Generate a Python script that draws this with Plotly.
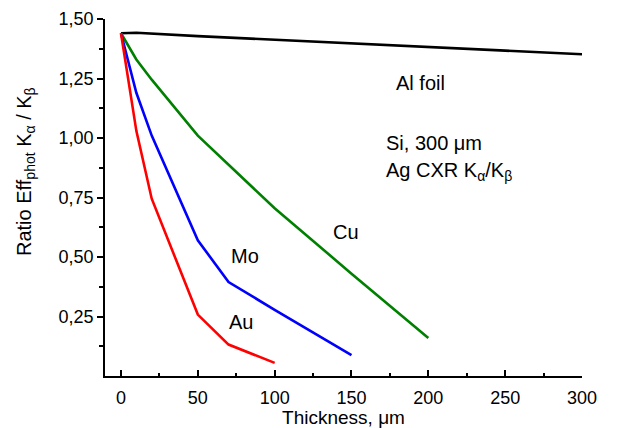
import plotly.graph_objects as go

# Data (thickness in µm, ratio)
al_x = [0, 10, 50, 100, 150, 200, 250, 300]
al_y = [1.44, 1.442, 1.428, 1.412, 1.397, 1.382, 1.367, 1.352]

cu_x = [0, 10, 20, 50, 100, 150, 200]
cu_y = [1.44, 1.33, 1.245, 1.01, 0.705, 0.43, 0.16]

mo_x = [0, 10, 20, 50, 70, 100, 150]
mo_y = [1.44, 1.19, 1.01, 0.57, 0.395, 0.278, 0.088]

au_x = [0, 10, 20, 50, 70, 100]
au_y = [1.44, 1.03, 0.745, 0.258, 0.132, 0.055]

x_ticks = [0, 50, 100, 150, 200, 250, 300]
x_minor = [25, 75, 125, 175, 225, 275]
y_ticks = [0.25, 0.50, 0.75, 1.00, 1.25, 1.50]
y_ticktext = ["0,25", "0,50", "0,75", "1,00", "1,25", "1,50"]
y_minor = [0.125, 0.375, 0.625, 0.875, 1.125, 1.375]

FONT = "Liberation Sans, Arial, sans-serif"

fig = go.Figure()
for xs, ys, col in [(al_x, al_y, "black"), (cu_x, cu_y, "#008000"),
                    (mo_x, mo_y, "#0000FF"), (au_x, au_y, "#FF0000")]:
    fig.add_trace(go.Scatter(x=xs, y=ys, mode="lines",
                             line=dict(color=col, width=2.6), showlegend=False))

annots = [
    ("Al foil", 195, 1.23, "center"),
    ("Si, 300 μm", 171, 0.98, "left"),
    ("Ag CXR K<sub>α</sub>/K<sub>β</sub>", 171, 0.86, "left"),
    ("Cu", 146.7, 0.603, "center"),
    ("Mo", 81, 0.503, "center"),
    ("Au", 78.2, 0.227, "center"),
]
for txt, ax, ay, anc in annots:
    fig.add_annotation(x=ax, y=ay, text=txt, showarrow=False, xanchor=anc,
                       yanchor="middle", font=dict(size=20, color="black", family=FONT))

fig.add_annotation(xref="paper", yref="paper", x=(25 - 105) / 477, y=(376 - 172) / 357,
                   text="Ratio Eff<sub>phot</sub> K<sub>α</sub> / K<sub>β</sub>",
                   textangle=-90, showarrow=False, xanchor="center", yanchor="middle",
                   font=dict(size=20, color="black", family=FONT))

fig.update_layout(
    width=617, height=428,
    margin=dict(l=105, r=35, t=19, b=52),
    plot_bgcolor="white", paper_bgcolor="white",
    font=dict(family=FONT, color="black", size=18),
    xaxis=dict(range=[-10.4, 300], tickmode="array", tickvals=x_ticks,
               ticks="inside", ticklen=6, tickwidth=1.5, tickcolor="black",
               minor=dict(tickmode="array", tickvals=x_minor, ticks="inside",
                          ticklen=3, tickwidth=1.5, tickcolor="black"),
               showline=True, linecolor="black", linewidth=1.5,
               showgrid=False, zeroline=False, ticklabelstandoff=5, automargin=False,
               title=dict(text="Thickness, μm", font=dict(size=19), standoff=0),
               tickfont=dict(size=18)),
    yaxis=dict(range=[0, 1.5], tickmode="array", tickvals=y_ticks, ticktext=y_ticktext,
               ticks="outside", ticklen=6, tickwidth=1.5, tickcolor="black",
               minor=dict(tickmode="array", tickvals=y_minor, ticks="outside",
                          ticklen=4, tickwidth=1.5, tickcolor="black"),
               showline=True, linecolor="black", linewidth=1.5, automargin=False,
               showgrid=False, zeroline=False, tickfont=dict(size=18)),
)

fig.write_html("out.html")
